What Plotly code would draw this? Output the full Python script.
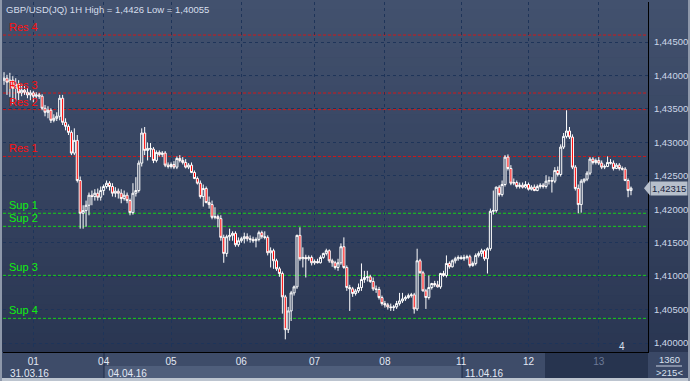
import plotly.graph_objects as go

# ---------------- data ----------------
bar_index = list(range(215))

opens = [
    1.4393, 1.4396, 1.4390, 1.4393, 1.4381, 1.4387, 1.4374, 1.4378, 1.4375, 1.4371,
    1.4374, 1.4369, 1.4371, 1.4369, 1.4351, 1.4345, 1.4348, 1.4333, 1.4336, 1.4339,
    1.4366, 1.4330, 1.4324, 1.4315, 1.4284, 1.4303, 1.4243, 1.4194, 1.4198, 1.4206,
    1.4221, 1.4219, 1.4224, 1.4218, 1.4228, 1.4234, 1.4239, 1.4234, 1.4224, 1.4227,
    1.4224, 1.4216, 1.4221, 1.4213, 1.4195, 1.4224, 1.4228, 1.4269, 1.4314, 1.4288,
    1.4291, 1.4290, 1.4273, 1.4285, 1.4282, 1.4284, 1.4266, 1.4264, 1.4267, 1.4263,
    1.4276, 1.4273, 1.4270, 1.4263, 1.4266, 1.4255, 1.4246, 1.4239, 1.4219, 1.4231,
    1.4210, 1.4207, 1.4188, 1.4189, 1.4186, 1.4158, 1.4134, 1.4159, 1.4161, 1.4164,
    1.4147, 1.4153, 1.4156, 1.4159, 1.4156, 1.4155, 1.4153, 1.4155, 1.4165, 1.4159,
    1.4158, 1.4135, 1.4138, 1.4123, 1.4111, 1.4104, 1.4069, 1.4020, 1.4048, 1.4075,
    1.4084, 1.4161, 1.4126, 1.4128, 1.4126, 1.4128, 1.4120, 1.4122, 1.4120, 1.4128,
    1.4134, 1.4138, 1.4123, 1.4120, 1.4113, 1.4120, 1.4144, 1.4113, 1.4083, 1.4081,
    1.4074, 1.4078, 1.4083, 1.4095, 1.4098, 1.4099, 1.4092, 1.4081, 1.4080, 1.4068,
    1.4059, 1.4057, 1.4054, 1.4053, 1.4054, 1.4059, 1.4063, 1.4066, 1.4068, 1.4071,
    1.4072, 1.4051, 1.4123, 1.4105, 1.4078, 1.4068, 1.4083, 1.4089, 1.4087, 1.4084,
    1.4104, 1.4101, 1.4119, 1.4114, 1.4123, 1.4126, 1.4128, 1.4126, 1.4128, 1.4129,
    1.4116, 1.4119, 1.4131, 1.4134, 1.4138, 1.4126, 1.4141, 1.4197, 1.4198, 1.4233,
    1.4222, 1.4237, 1.4278, 1.4261, 1.4239, 1.4240, 1.4234, 1.4236, 1.4233, 1.4237,
    1.4230, 1.4233, 1.4228, 1.4234, 1.4236, 1.4234, 1.4242, 1.4243, 1.4242, 1.4258,
    1.4252, 1.4293, 1.4309, 1.4317, 1.4308, 1.4263, 1.4231, 1.4207, 1.4242, 1.4245,
    1.4254, 1.4275, 1.4270, 1.4273, 1.4269, 1.4263, 1.4264, 1.4270, 1.4269, 1.4261,
    1.4266, 1.4261, 1.4260, 1.4243, 1.4228,
]

highs = [
    1.4405, 1.4401, 1.4404, 1.4399, 1.4396, 1.4393, 1.4387, 1.4384, 1.4381, 1.4378,
    1.4377, 1.4375, 1.4374, 1.4372, 1.4356, 1.4354, 1.4351, 1.4342, 1.4345, 1.4371,
    1.4371, 1.4336, 1.4327, 1.4318, 1.4321, 1.4311, 1.4249, 1.4206, 1.4213, 1.4225,
    1.4228, 1.4230, 1.4231, 1.4234, 1.4237, 1.4243, 1.4242, 1.4239, 1.4233, 1.4231,
    1.4230, 1.4228, 1.4225, 1.4216, 1.4239, 1.4248, 1.4273, 1.4321, 1.4323, 1.4300,
    1.4299, 1.4293, 1.4288, 1.4288, 1.4287, 1.4287, 1.4270, 1.4270, 1.4272, 1.4279,
    1.4281, 1.4278, 1.4275, 1.4269, 1.4270, 1.4258, 1.4249, 1.4243, 1.4237, 1.4234,
    1.4219, 1.4213, 1.4203, 1.4192, 1.4191, 1.4162, 1.4162, 1.4171, 1.4167, 1.4167,
    1.4158, 1.4159, 1.4165, 1.4164, 1.4161, 1.4159, 1.4158, 1.4168, 1.4168, 1.4167,
    1.4161, 1.4143, 1.4141, 1.4126, 1.4114, 1.4107, 1.4072, 1.4054, 1.4078, 1.4086,
    1.4162, 1.4173, 1.4143, 1.4132, 1.4131, 1.4131, 1.4125, 1.4126, 1.4131, 1.4135,
    1.4141, 1.4140, 1.4126, 1.4123, 1.4126, 1.4149, 1.4158, 1.4116, 1.4087, 1.4084,
    1.4081, 1.4089, 1.4119, 1.4108, 1.4108, 1.4102, 1.4098, 1.4086, 1.4084, 1.4071,
    1.4063, 1.4060, 1.4059, 1.4057, 1.4063, 1.4075, 1.4075, 1.4071, 1.4074, 1.4075,
    1.4075, 1.4141, 1.4126, 1.4108, 1.4081, 1.4101, 1.4090, 1.4093, 1.4093, 1.4105,
    1.4108, 1.4131, 1.4122, 1.4125, 1.4129, 1.4131, 1.4131, 1.4132, 1.4132, 1.4132,
    1.4122, 1.4134, 1.4137, 1.4141, 1.4140, 1.4143, 1.4201, 1.4228, 1.4234, 1.4236,
    1.4243, 1.4281, 1.4282, 1.4266, 1.4246, 1.4243, 1.4240, 1.4240, 1.4242, 1.4240,
    1.4236, 1.4237, 1.4237, 1.4239, 1.4239, 1.4251, 1.4249, 1.4248, 1.4263, 1.4264,
    1.4297, 1.4314, 1.4348, 1.4323, 1.4312, 1.4266, 1.4237, 1.4245, 1.4246, 1.4257,
    1.4278, 1.4278, 1.4276, 1.4278, 1.4273, 1.4267, 1.4279, 1.4275, 1.4273, 1.4269,
    1.4269, 1.4264, 1.4263, 1.4246, 1.4234,
]

lows = [
    1.4386, 1.4371, 1.4368, 1.4357, 1.4363, 1.4363, 1.4369, 1.4371, 1.4366, 1.4363,
    1.4360, 1.4366, 1.4365, 1.4348, 1.4339, 1.4336, 1.4329, 1.4330, 1.4332, 1.4333,
    1.4326, 1.4318, 1.4311, 1.4281, 1.4281, 1.4240, 1.4171, 1.4171, 1.4174, 1.4191,
    1.4206, 1.4213, 1.4213, 1.4213, 1.4221, 1.4231, 1.4228, 1.4219, 1.4218, 1.4216,
    1.4209, 1.4213, 1.4209, 1.4191, 1.4192, 1.4219, 1.4225, 1.4264, 1.4281, 1.4273,
    1.4278, 1.4269, 1.4270, 1.4279, 1.4278, 1.4263, 1.4261, 1.4261, 1.4260, 1.4260,
    1.4270, 1.4267, 1.4261, 1.4260, 1.4254, 1.4245, 1.4237, 1.4216, 1.4204, 1.4209,
    1.4201, 1.4185, 1.4185, 1.4173, 1.4153, 1.4120, 1.4129, 1.4153, 1.4153, 1.4144,
    1.4144, 1.4150, 1.4149, 1.4152, 1.4150, 1.4150, 1.4143, 1.4152, 1.4156, 1.4155,
    1.4131, 1.4113, 1.4111, 1.4108, 1.4099, 1.4044, 1.40055, 1.4015, 1.4033, 1.4071,
    1.4081, 1.4123, 1.4113, 1.4098, 1.4123, 1.4116, 1.4117, 1.4119, 1.4119, 1.4126,
    1.4131, 1.4120, 1.4114, 1.4110, 1.4108, 1.4117, 1.4111, 1.4078, 1.4048, 1.4069,
    1.4071, 1.4075, 1.4078, 1.4090, 1.4092, 1.4090, 1.4078, 1.4075, 1.4065, 1.4056,
    1.4053, 1.4050, 1.4048, 1.4048, 1.4051, 1.4056, 1.4060, 1.4063, 1.4066, 1.4068,
    1.4044, 1.4048, 1.4104, 1.4077, 1.4051, 1.4065, 1.4080, 1.4084, 1.4083, 1.4081,
    1.4099, 1.4098, 1.4111, 1.4113, 1.4119, 1.4123, 1.4125, 1.4123, 1.4125, 1.4113,
    1.4114, 1.4116, 1.4128, 1.4129, 1.4123, 1.4104, 1.4138, 1.4192, 1.4195, 1.4219,
    1.4219, 1.4234, 1.4258, 1.4236, 1.4236, 1.4231, 1.4231, 1.4231, 1.4231, 1.4228,
    1.4228, 1.4227, 1.4227, 1.4231, 1.4231, 1.4231, 1.4237, 1.4225, 1.4239, 1.4249,
    1.4249, 1.4290, 1.4306, 1.4305, 1.4260, 1.4228, 1.4194, 1.4195, 1.4239, 1.4242,
    1.4251, 1.4267, 1.4267, 1.4266, 1.4260, 1.4260, 1.4263, 1.4267, 1.4258, 1.4260,
    1.4258, 1.4258, 1.4242, 1.4218, 1.4221,
]

closes = [
    1.4396, 1.4390, 1.4393, 1.4381, 1.4387, 1.4374, 1.4378, 1.4375, 1.4371, 1.4374,
    1.4369, 1.4371, 1.4369, 1.4351, 1.4345, 1.4348, 1.4333, 1.4336, 1.4339, 1.4366,
    1.4330, 1.4324, 1.4315, 1.4284, 1.4303, 1.4243, 1.4194, 1.4198, 1.4206, 1.4221,
    1.4219, 1.4224, 1.4218, 1.4228, 1.4234, 1.4239, 1.4234, 1.4224, 1.4227, 1.4224,
    1.4216, 1.4221, 1.4213, 1.4195, 1.4224, 1.4228, 1.4269, 1.4314, 1.4288, 1.4291,
    1.4290, 1.4273, 1.4285, 1.4282, 1.4284, 1.4266, 1.4264, 1.4267, 1.4263, 1.4276,
    1.4273, 1.4270, 1.4263, 1.4266, 1.4255, 1.4246, 1.4239, 1.4219, 1.4231, 1.4210,
    1.4207, 1.4188, 1.4189, 1.4186, 1.4158, 1.4134, 1.4159, 1.4161, 1.4164, 1.4147,
    1.4153, 1.4156, 1.4159, 1.4156, 1.4155, 1.4153, 1.4155, 1.4165, 1.4159, 1.4158,
    1.4135, 1.4138, 1.4123, 1.4111, 1.4104, 1.4069, 1.4020, 1.4048, 1.4075, 1.4084,
    1.4161, 1.4126, 1.4128, 1.4126, 1.4128, 1.4120, 1.4122, 1.4120, 1.4128, 1.4134,
    1.4138, 1.4123, 1.4120, 1.4113, 1.4120, 1.4144, 1.4113, 1.4083, 1.4081, 1.4074,
    1.4078, 1.4083, 1.4095, 1.4098, 1.4099, 1.4092, 1.4081, 1.4080, 1.4068, 1.4059,
    1.4057, 1.4054, 1.4053, 1.4054, 1.4059, 1.4063, 1.4066, 1.4068, 1.4071, 1.4072,
    1.4051, 1.4123, 1.4105, 1.4078, 1.4068, 1.4083, 1.4089, 1.4087, 1.4084, 1.4104,
    1.4101, 1.4119, 1.4114, 1.4123, 1.4126, 1.4128, 1.4126, 1.4128, 1.4129, 1.4116,
    1.4119, 1.4131, 1.4134, 1.4138, 1.4126, 1.4141, 1.4197, 1.4198, 1.4233, 1.4222,
    1.4237, 1.4278, 1.4261, 1.4239, 1.4240, 1.4234, 1.4236, 1.4233, 1.4237, 1.4230,
    1.4233, 1.4228, 1.4234, 1.4236, 1.4234, 1.4242, 1.4243, 1.4242, 1.4258, 1.4252,
    1.4293, 1.4309, 1.4317, 1.4308, 1.4263, 1.4231, 1.4207, 1.4242, 1.4245, 1.4254,
    1.4275, 1.4270, 1.4273, 1.4269, 1.4263, 1.4264, 1.4270, 1.4269, 1.4261, 1.4266,
    1.4261, 1.4260, 1.4243, 1.4228, 1.42315,
]

day_ticks = [10, 34, 57, 81, 106, 130, 156, 179, 203]
day_labels = ["01", "04", "05", "06", "07", "08", "11", "12", "13"]
week_labels = ["31.03.16", "04.04.16", "11.04.16"]
price_ticks = [1.400, 1.405, 1.410, 1.415, 1.420, 1.425, 1.430, 1.435, 1.440, 1.445]
level_names = ["Res 4", "Res 3", "Res 2", "Res 1", "Sup 1", "Sup 2", "Sup 3", "Sup 4"]
level_values = [1.44605, 1.43738, 1.4349, 1.4279, 1.4194, 1.41745, 1.41012, 1.40369]
last_price = 1.42315
title_text = "GBP/USD(JQ) 1H High = 1,4426 Low = 1,40055"
bars_text = ["1360", ">215<"]

# ---------------- geometry helpers ----------------
W, H = 690, 381
ML, MR, MT, MB = 3, 42, 2, 29
PW, PH = W - ML - MR, H - MT - MB


def px_x(px):
    return (px - ML) / PW


def px_y(py):
    return (H - MB - py) / PH


FONT = "Liberation Sans"

fig = go.Figure()
fig.add_trace(go.Candlestick(
    x=bar_index, open=opens, high=highs, low=lows, close=closes,
    increasing=dict(line=dict(color="#ffffff", width=1), fillcolor="#34425f"),
    decreasing=dict(line=dict(color="#ffffff", width=1), fillcolor="#ff0000"),
    whiskerwidth=0, hoverinfo="skip", showlegend=False,
))

shapes = []
# background gradient
nb = 40
top_c = (66, 81, 110)
bot_c = (40, 52, 80)
for k in range(nb):
    t = k / (nb - 1)
    c = tuple(int(round(top_c[j] + (bot_c[j] - top_c[j]) * t)) for j in range(3))
    y0 = k * H / nb
    y1 = (k + 1) * H / nb + 0.6
    shapes.append(dict(type="rect", xref="paper", yref="paper", layer="below",
                       x0=px_x(0), x1=px_x(W), y0=px_y(y1), y1=px_y(y0),
                       fillcolor="rgb(%d,%d,%d)" % c, line=dict(width=0)))


def rect_px(x0, y0, x1, y1, color):
    shapes.append(dict(type="rect", xref="paper", yref="paper", layer="below",
                       x0=px_x(x0), x1=px_x(x1), y0=px_y(y1), y1=px_y(y0),
                       fillcolor=color, line=dict(width=0)))


# bottom date bar
rect_px(0, 352, 545, 378, "#3e4c69")
rect_px(104, 366, 462, 378, "#4f5e7b")
rect_px(545, 352, 648, 378, "#27344f")
rect_px(648, 352, 690, 378, "#3a4866")
rect_px(0, 378, 690, 381, "#bcc4cf")
rect_px(0, 0, 2, 381, "#8e98aa")
rect_px(688, 0, 690, 381, "#8e98aa")
for xs in (104, 462):
    shapes.append(dict(type="line", xref="paper", yref="paper", layer="below",
                       x0=px_x(xs), x1=px_x(xs), y0=px_y(352), y1=px_y(378),
                       line=dict(color="#1c2b48", width=1)))
shapes.append(dict(type="line", xref="paper", yref="paper", layer="below",
                   x0=px_x(656), x1=px_x(682), y0=px_y(366), y1=px_y(366),
                   line=dict(color="#c8d0e0", width=1)))

# support / resistance lines
for name, val in zip(level_names, level_values):
    col = "#d01818" if name.startswith("Res") else "#18d018"
    shapes.append(dict(type="line", xref="paper", yref="y", layer="between",
                       x0=0, x1=1, y0=val, y1=val,
                       line=dict(color=col, width=1, dash="3px,2px")))

# price tag arrow
shapes.append(dict(type="path", xref="paper", yref="y", layer="above",
                   path="M %f,%f L %f,%f L %f,%f Z" % (
                       px_x(644), last_price,
                       px_x(650), last_price + 0.0011,
                       px_x(650), last_price - 0.0011),
                   fillcolor="#b7bfcb", line=dict(width=0)))

annotations = []
annotations.append(dict(text=title_text, xref="paper", yref="paper",
                        x=px_x(4), y=px_y(2), xanchor="left", yanchor="top",
                        showarrow=False, font=dict(family=FONT, size=9.5, color="#d6deec")))
for name, val in zip(level_names, level_values):
    col = "#ff1010" if name.startswith("Res") else "#10f010"
    annotations.append(dict(text=name, xref="paper", yref="y", x=px_x(7), y=val,
                            xanchor="left", yanchor="middle", yshift=8, showarrow=False,
                            font=dict(family=FONT, size=11, color=col)))
annotations.append(dict(text=week_labels[0], xref="paper", yref="paper",
                        x=px_x(8), y=px_y(373), xanchor="left", yanchor="middle",
                        showarrow=False, font=dict(family=FONT, size=10, color="#e2e8f4")))
annotations.append(dict(text=week_labels[1], xref="x", yref="paper",
                        x=day_ticks[1], y=px_y(373), xanchor="left", yanchor="middle", xshift=2,
                        showarrow=False, font=dict(family=FONT, size=10, color="#e2e8f4")))
annotations.append(dict(text=week_labels[2], xref="x", yref="paper",
                        x=day_ticks[6], y=px_y(373), xanchor="left", yanchor="middle", xshift=2,
                        showarrow=False, font=dict(family=FONT, size=10, color="#e2e8f4")))
annotations.append(dict(text=bars_text[0], xref="paper", yref="paper",
                        x=px_x(669), y=px_y(359), xanchor="center", yanchor="middle",
                        showarrow=False, font=dict(family=FONT, size=9.5, color="#d8e0ee")))
annotations.append(dict(text=bars_text[1], xref="paper", yref="paper",
                        x=px_x(669), y=px_y(372), xanchor="center", yanchor="middle",
                        showarrow=False, font=dict(family=FONT, size=9.5, color="#d8e0ee")))
annotations.append(dict(text="4", xref="paper", yref="paper",
                        x=px_x(622), y=px_y(346), xanchor="center", yanchor="middle",
                        showarrow=False, font=dict(family=FONT, size=10, color="#d8e0ee")))
annotations.append(dict(text="1,42315", xref="paper", yref="y",
                        x=px_x(650), y=last_price, xanchor="left", yanchor="middle",
                        showarrow=False, bgcolor="#b7bfcb", borderpad=1,
                        font=dict(family=FONT, size=9.5, color="#17243f")))

ticktext = [lab if lab != "13" else '<span style="color:#6c7a97">13</span>' for lab in day_labels]

fig.update_layout(
    width=W, height=H,
    margin=dict(l=ML, r=MR, t=MT, b=MB, pad=0),
    paper_bgcolor="#34425f", plot_bgcolor="rgba(0,0,0,0)",
    separators=", ",
    showlegend=False,
    boxgap=0.0,
    shapes=shapes, annotations=annotations,
    font=dict(family=FONT, size=10, color="#dfe6f3"),
    xaxis=dict(range=[-0.35, 219.8], tickvals=day_ticks, ticktext=ticktext,
               showgrid=True, gridcolor="#1e3459", gridwidth=1, griddash="3px,3px",
               zeroline=False, ticks="", showline=True, linecolor="#000000", linewidth=1,
               tickfont=dict(family=FONT, size=10, color="#e2e8f4"),
               rangeslider=dict(visible=False), fixedrange=True),
    yaxis=dict(range=[1.39866, 1.45099], side="right", tickvals=price_ticks,
               tickformat=".5f", showgrid=True, gridcolor="#1e3459", gridwidth=1,
               griddash="3px,3px", zeroline=False, ticks="", showline=True,
               linecolor="#000000", linewidth=1, ticklabelstandoff=3,
               tickfont=dict(family=FONT, size=9.5, color="#ccd6e8"), fixedrange=True),
)

fig.write_html(
    "out.html",
    config={"displayModeBar": False},
    post_script="document.body.style.margin='0px';document.body.style.overflow='hidden';",
)
